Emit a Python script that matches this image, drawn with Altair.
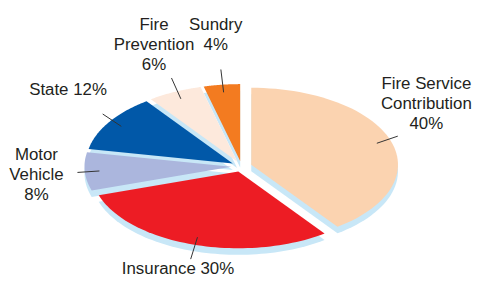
import altair as alt
import pandas as pd

# ---- data ----
categories = ["Fire Service Contribution", "Insurance", "Motor Vehicle", "State", "Fire Prevention", "Sundry"]
label_names = ["Fire Service\nContribution", "Insurance", "Motor\nVehicle", "State", "Fire\nPrevention", "Sundry"]
pct_new_line = [True, False, True, False, True, True]
values = [40, 30, 8, 12, 6, 4]
colors = ["#fbd3b0", "#ed1c24", "#abb6dd", "#0158a8", "#fde9dc", "#f37b20"]

SIDE = "#c8e7f7"
TEXT = "#231f20"
FONT = "Liberation Sans, Arial"

df = pd.DataFrame({
    "category": categories,
    "value": values,
    "order": list(range(len(values))),
    "label": [f"{n}{chr(10) if nl else ' '}{v}%" for n, v, nl in zip(label_names, values, pct_new_line)],
})

N = 60          # arc resolution
E = 0.07        # explode distance (unit radius)
DEPTH = 0.085   # pie thickness (unit radius, vertical)
LH = 0.258      # one text line, in vertical units
RX, RY = 1.4, 1.85   # label ellipse

xs = alt.Scale(domain=[-1.591, 1.544], nice=False, zero=False)
ys = alt.Scale(domain=[-1.387, 2.045], nice=False, zero=False)

base = (
    alt.Chart(df)
    .transform_joinaggregate(total="sum(value)")
    .transform_window(cum="sum(value)", sort=[alt.SortField("order")], frame=[None, 0])
    .transform_calculate(a0="2*PI*(datum.cum - datum.value)/datum.total")
    .transform_calculate(a1="2*PI*datum.cum/datum.total")
    .transform_calculate(mid="(datum.a0 + datum.a1)/2")
)

pts = (
    base.transform_calculate(k=f"sequence(0, {N + 2})")
    .transform_flatten(["k"])
    .transform_calculate(ang=f"datum.a0 + (datum.a1 - datum.a0)*(datum.k - 1)/{N}")
    .transform_calculate(px=f"(datum.k == 0 ? 0 : sin(datum.ang)) + {E}*sin(datum.mid)")
    .transform_calculate(py=f"(datum.k == 0 ? 0 : cos(datum.ang)) + {E}*cos(datum.mid)")
    .transform_calculate(pyside=f"datum.py - {DEPTH}")
)

side = pts.mark_line(filled=True, interpolate="linear-closed", color=SIDE, strokeWidth=0).encode(
    x=alt.X("px:Q", scale=xs, axis=None),
    y=alt.Y("pyside:Q", scale=ys, axis=None),
    order="k:Q",
    detail="category:N",
)

top = pts.mark_line(filled=True, interpolate="linear-closed", strokeWidth=0).encode(
    x=alt.X("px:Q", scale=xs, axis=None),
    y=alt.Y("py:Q", scale=ys, axis=None),
    order="k:Q",
    color=alt.Color("category:N", scale=alt.Scale(domain=categories, range=colors), legend=None),
)

leaders = (
    base.transform_calculate(lx1=f"(0.9 + {E})*sin(datum.mid)", ly1=f"(0.9 + {E})*cos(datum.mid)")
    .transform_calculate(lx2=f"(1.05 + {E})*sin(datum.mid)", ly2=f"(1.2 + {E})*cos(datum.mid)")
    .mark_rule(color="#333333", strokeWidth=1)
    .encode(
        x=alt.X("lx1:Q", scale=xs, axis=None),
        y=alt.Y("ly1:Q", scale=ys, axis=None),
        x2="lx2:Q",
        y2="ly2:Q",
    )
)

# labels sit on an ellipse around the pie; a label pushed in from the edge slides along it
labels = (
    base.transform_calculate(nl="length(split(datum.label, '\\n'))")
    .transform_calculate(tx=f"clamp({RX}*sin(datum.mid), -1.42, 1.26)")
    .transform_calculate(tc=f"(cos(datum.mid) >= 0 ? 1 : -1)*{RY}*sqrt(max(0, 1 - pow(datum.tx/{RX}, 2)))")
    .transform_calculate(t0=f"datum.tc + (datum.nl - 1)*{LH / 2}")
    .transform_calculate(ty=f"clamp(datum.t0, -1.335 + (datum.nl - 1)*{LH}, 1.839)")
    .mark_text(font=FONT, fontSize=17, lineHeight=20, align="center", baseline="middle",
               lineBreak="\n", color=TEXT)
    .encode(
        x=alt.X("tx:Q", scale=xs, axis=None),
        y=alt.Y("ty:Q", scale=ys, axis=None),
        text="label:N",
    )
)

chart = (
    alt.layer(side, top, leaders, labels)
    .properties(width=464, height=266, padding=0, background="white")
    .configure_view(stroke=None)
)

chart.save("out.html", embed_options={"renderer": "svg", "actions": False})
